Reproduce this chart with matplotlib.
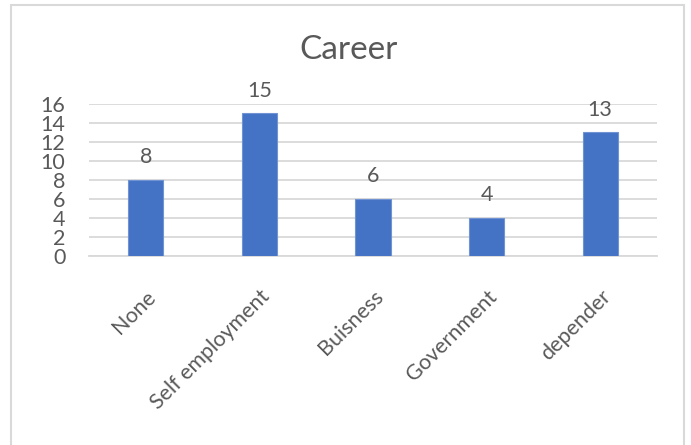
import matplotlib.pyplot as plt
from matplotlib.patches import Rectangle

# career counts
categories = ["None", "Self employment", "Buisness", "Government", "depender"]
counts = [8, 15, 6, 4, 13]
y_ticks = [0, 2, 4, 6, 8, 10, 12, 14, 16]

TEXT = "#595959"
GRID = "#D9D9D9"
BAR = "#4472C4"
FS = 15.5

plt.rcParams["font.family"] = ["Lato", "DejaVu Sans"]

fig = plt.figure(figsize=(6.91, 4.45), dpi=100)
fig.patch.set_facecolor("white")

# chart area frame
fig.add_artist(Rectangle((11 / 691, -0.05), 673 / 691, 1.05 - 5 / 445,
                         transform=fig.transFigure, fill=False,
                         edgecolor=GRID, linewidth=1.5))

ax = fig.add_axes([89 / 691, 1 - 256 / 445, 568 / 691, 152.5 / 445])

x = range(len(categories))
bars = ax.bar(x, counts, width=0.31, color=BAR, edgecolor="#6F93D3",
              linewidth=0.8, zorder=3)

for b, v in zip(bars, counts):
    ax.text(b.get_x() + b.get_width() / 2, v + 1.3, str(v),
            ha="center", va="bottom", fontsize=FS, color=TEXT, clip_on=False)

ax.set_xlim(-0.5, len(categories) - 0.5)
ax.set_ylim(0, 16)
ax.set_yticks(y_ticks)
ax.set_yticklabels([str(t) for t in y_ticks], fontsize=FS, color=TEXT)
ax.yaxis.grid(True, color=GRID, linewidth=1.3, zorder=0)
ax.set_axisbelow(True)

ax.set_xticks(list(x))
ax.set_xticklabels(categories, rotation=45, ha="right", va="top",
                   rotation_mode="anchor", fontsize=FS, color=TEXT)

ax.tick_params(axis="both", length=0)
ax.tick_params(axis="y", pad=17)
ax.tick_params(axis="x", pad=22)
for side in ["top", "right", "left"]:
    ax.spines[side].set_visible(False)
ax.spines["bottom"].set_color(GRID)
ax.spines["bottom"].set_linewidth(1.3)

fig.text(349 / 691, 1 - 50 / 445, "Career", ha="center", va="center",
         fontsize=24, color=TEXT)

fig.savefig("out.png", dpi=100)
